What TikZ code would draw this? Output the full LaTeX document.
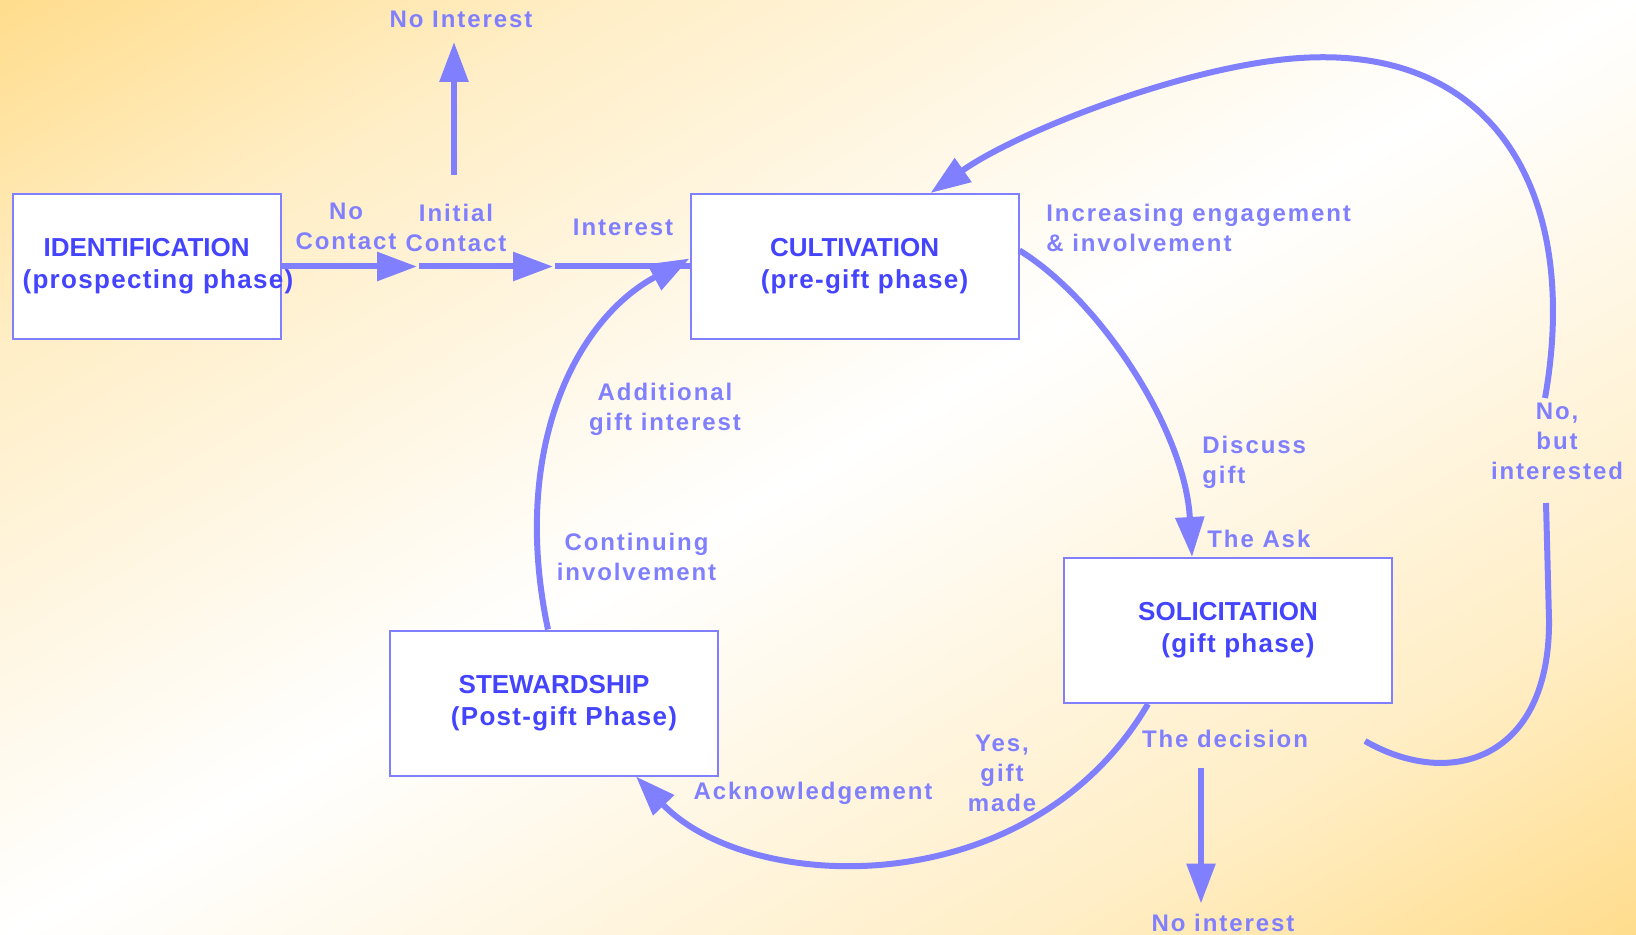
\documentclass[tikz,border=0pt]{standalone}
\usepackage{fontspec}
\setmainfont{Liberation Sans}
\newfontfamily\lblfont[LetterSpace=8]{Liberation Sans}
\newfontfamily\subfont[LetterSpace=5]{Liberation Sans}
\usetikzlibrary{arrows.meta,calc,positioning}
\definecolor{edgeblue}{RGB}{128,128,255}
\definecolor{textblue}{RGB}{68,68,255}
\definecolor{corner}{RGB}{255,209,102}
\colorlet{cornerpale}{corner!37!white}
\pgfdeclareverticalshading{bgshade}{100bp}{color(0bp)=(corner); color(7bp)=(corner); color(28.4bp)=(cornerpale); color(50bp)=(white); color(71.6bp)=(cornerpale); color(93bp)=(corner); color(100bp)=(corner)}
\newcommand{\sub}[1]{\hspace*{10pt}{\subfont #1}}

\begin{document}
\begin{tikzpicture}[x=0.5pt, y=-0.5pt,
    phase/.style={draw=edgeblue, line width=1pt, fill=white, minimum width=164pt, minimum height=72.5pt,
        inner sep=0pt, align=center, text=textblue, font=\bfseries\fontsize{13}{16}\selectfont},
    lbl/.style={text=edgeblue, align=center, inner sep=0pt, font=\lblfont\bfseries\fontsize{12}{15}\selectfont},
    flow/.style={draw=edgeblue, line width=3pt, -{Triangle[length=20pt,width=14pt]}},
    plain/.style={draw=edgeblue, line width=3pt}]
    \shade[shading=bgshade, shading angle=30] (0,0) rectangle (1636,935);
    \useasboundingbox (0,0) rectangle (1636,935);

    \node[phase, minimum width=134pt, text width=134pt] (ident) at (146.6,266.5)
        {IDENTIFICATION\\\mbox{\hspace*{5pt}\subfont (prospecting phase)}};
    \node[phase] (cult) at (854.5,266.5) {CULTIVATION\\\sub{(pre-gift phase)}};
    \node[phase] (solic) at (1228,630.5) {SOLICITATION\\\sub{(gift phase)}};
    \node[phase] (stew) at (554,703) {STEWARDSHIP\\\sub{(Post-gift Phase)}};

    \coordinate (nc) at (417,266.5);
    \coordinate (ic) at (553,266.5);
    \coordinate (upfoot) at (454,175);
    \coordinate (uptip) at (454,42);
    \coordinate (decfoot) at (1201,768);
    \coordinate (dectip) at (1201,903.5);
    \coordinate (loopa) at (1365,741);
    \coordinate (loopb) at (1546,503);
    \coordinate (loopc) at (1545,398);

    \draw[flow] (ident.east) -- (nc);
    \draw[flow] ([xshift=1pt]nc) -- (ic);
    \draw[plain] ([xshift=1pt]ic) -- (cult.west);
    \draw[flow] (upfoot) -- (uptip);
    \draw[flow] (decfoot) -- (dectip);

    \draw[flow] ($(stew.north)+(-6,0)$) .. controls (510,450) and (575,320) .. ($(cult.west)+(0,-8)$);
    \draw[flow] ($(cult.east)+(0,-16)$) .. controls (1100,300) and (1185,430) .. ($(solic.north)+(-36,0)$);
    \draw[flow] ($(solic.south)+(-80,0)$) .. controls (1030,905) and (750,895) .. ($(stew.south)+(82,0)$);
    \draw[plain] (loopa) .. controls (1450,790) and (1550,760) .. (1549,620) -- (loopb);
    \draw[flow] (loopc) .. controls (1580,200) and (1500,45) .. (1300,58)
        .. controls (1190,65) and (1020,130) .. ($(cult.north)+(76,0)$);

    \node[lbl] (nointerest) at (461,19) {No Interest};
    \node[lbl] (nocontact) at (346,226.5) {No\\Contact};
    \node[lbl] (initial) at (456,227.5) {Initial\\Contact};
    \node[lbl] (interest) at (623,227.5) {Interest};
    \node[lbl, anchor=west, align=left] (engage) at (1046,228) {Increasing engagement\\\& involvement};
    \node[lbl, anchor=west, align=left] (discuss) at (1202,462) {Discuss\\gift};
    \node[lbl, anchor=west] (ask) at (1207,539) {The Ask};
    \node[lbl] (nobut) at (1557,441) {No,\\but\\interested};
    \node[lbl] (decision) at (1225,739) {The decision};
    \node[lbl] (nointerest2) at (1223,922.5) {No interest};
    \node[lbl] (yes) at (1002,773) {Yes,\\gift\\made};
    \node[lbl] (ack) at (813,793) {Acknowledgement};
    \node[lbl] (continuing) at (636.5,556.5) {Continuing\\involvement};
    \node[lbl] (additional) at (665,409.5) {Additional\\gift interest};
\end{tikzpicture}
\end{document}
